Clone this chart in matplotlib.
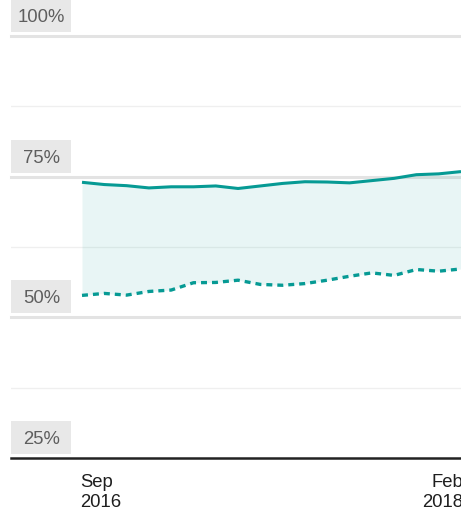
import matplotlib
matplotlib.use("Agg")
import matplotlib.pyplot as plt
import numpy as np

plt.rcParams['font.family'] = ['Liberation Sans', 'DejaVu Sans']
plt.rcParams['lines.scale_dashes'] = False

# Monthly data, Sep 2016 .. Feb 2018
months = ["Sep 2016", "Oct 2016", "Nov 2016", "Dec 2016", "Jan 2017", "Feb 2017",
          "Mar 2017", "Apr 2017", "May 2017", "Jun 2017", "Jul 2017", "Aug 2017",
          "Sep 2017", "Oct 2017", "Nov 2017", "Dec 2017", "Jan 2018", "Feb 2018"]
upper = [74.0, 73.6, 73.4, 73.0, 73.2, 73.2, 73.35, 72.9, 73.35, 73.8, 74.1, 74.05,
         73.9, 74.3, 74.7, 75.35, 75.5, 75.9]
lower = [53.9, 54.25, 53.95, 54.6, 54.85, 56.15, 56.2, 56.6, 55.85, 55.7, 56.0, 56.6,
         57.3, 57.9, 57.45, 58.5, 58.2, 58.6]
major_ticks = [100, 75, 50, 25]
major_labels = ["100%", "75%", "50%", "25%"]
minor_ticks = [87.5, 62.5, 37.5]
x_labels = [(0, "Sep\n2016"), (17, "Feb\n2018")]

teal = "#069a94"
W, H = 461, 511
fig = plt.figure(figsize=(W / 100, H / 100), dpi=100)
left_px, right_px = 11, 461
top_px, bot_px = 36, 458
ax = fig.add_axes([left_px / W, (H - bot_px) / H, (right_px - left_px) / W, (bot_px - top_px) / H])

x = np.arange(len(months))
px_per_unit = (461 - 82) / 17.0
xmin = 0 - (82 - left_px) / px_per_unit
ax.set_xlim(xmin, 17)
ax.set_ylim(25, 100)
ypx = 75.0 / (bot_px - top_px)  # data units per pixel

for s in ax.spines.values():
    s.set_visible(False)
ax.set_xticks([])
ax.set_yticks([])

# grid
for v in minor_ticks:
    ax.axhline(v, color="#efefef", lw=0.9, zorder=1)
for v in major_ticks[:-1]:
    ax.axhline(v, color="#e3e3e3", lw=2.2, zorder=1, clip_on=False)
ax.axhline(25, color="#222222", lw=1.8, zorder=5, clip_on=False)

# fill and lines
ax.fill_between(x, lower, upper, color=teal, alpha=0.09, lw=0, zorder=2)
ax.plot(x, upper, color=teal, lw=2.2, zorder=4, solid_capstyle='butt')
ax.plot(x, lower, color=teal, lw=2.4, zorder=4, dashes=(4.3, 3.6))

# y labels in grey boxes
box_w = 60 / px_per_unit
for v, lab in zip(major_ticks, major_labels):
    y0 = v + 4 * ypx
    rect = plt.Rectangle((xmin, y0), box_w, 33 * ypx, facecolor="#e8e8e8",
                         edgecolor="none", zorder=6, clip_on=False)
    ax.add_patch(rect)
    ax.text(xmin + box_w / 2 + 0.02, y0 + 10 * ypx, lab, ha="center", va="baseline",
            fontsize=13.3, color="#5e5e5e", zorder=7, clip_on=False)

# x labels
for xv, lab in x_labels:
    if xv == 0:
        ax.text(xv - 1.5 / px_per_unit, 25 - 15.5 * ypx, lab, ha="left", va="top",
                ma="left", fontsize=13.3, color="#1e1e1e", linespacing=1.3, clip_on=False)
    else:
        ax.text(xv + 2 / px_per_unit, 25 - 15.5 * ypx, lab, ha="right", va="top",
                ma="right", fontsize=13.3, color="#1e1e1e", linespacing=1.3, clip_on=False)

fig.savefig("out.png", dpi=100)
